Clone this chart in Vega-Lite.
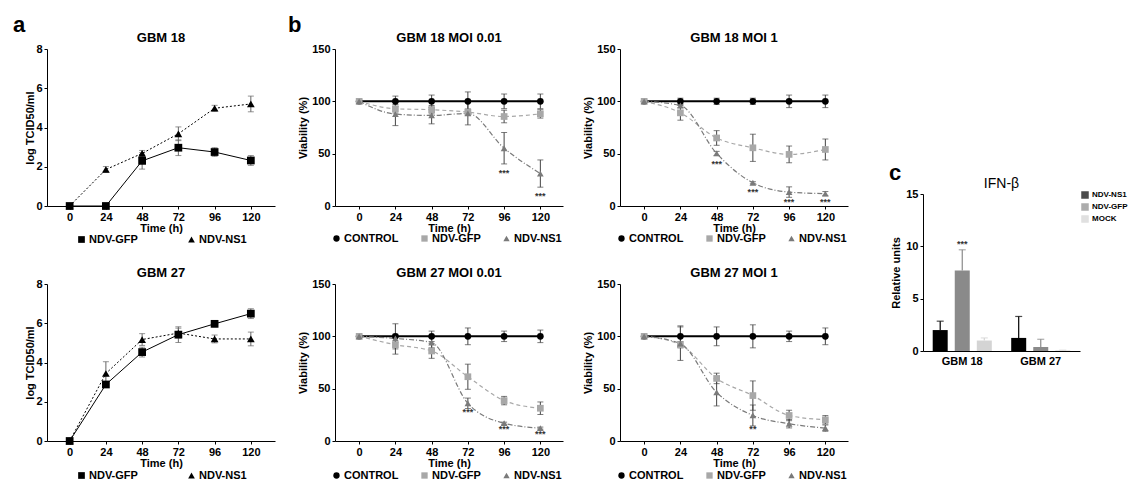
{
"$schema": "https://vega.github.io/schema/vega-lite/v6.json",
"padding": {"left": 13, "top": 14, "right": 0, "bottom": 0},
"background": "white",
"config": {
 "font": "Liberation Sans",
 "view": {"stroke": null},
 "axis": {"grid": false, "domainColor": "#000", "tickColor": "#000", "labelColor": "#000", "titleColor": "#000", "labelFontWeight": "bold", "labelFontSize": 11, "titleFontWeight": "bold", "titleFontSize": 11, "tickSize": 3, "labelPadding": 2, "domainWidth": 1, "labelOverlap": false},
 "title": {"fontSize": 13, "fontWeight": "bold", "color": "#000", "offset": -2},
 "legend": {"labelColor": "#000", "padding": 0, "gridAlign": "none"}
},
"datasets": {
 "growth": [
  {"panel":"a18","series":"NDV-GFP","t":0,"v":0,"e":0},
  {"panel":"a18","series":"NDV-GFP","t":24,"v":0,"e":0},
  {"panel":"a18","series":"NDV-GFP","t":48,"v":2.3,"e":0.42},
  {"panel":"a18","series":"NDV-GFP","t":72,"v":2.97,"e":0.4},
  {"panel":"a18","series":"NDV-GFP","t":96,"v":2.75,"e":0.22},
  {"panel":"a18","series":"NDV-GFP","t":120,"v":2.32,"e":0.25},
  {"panel":"a18","series":"NDV-NS1","t":0,"v":0,"e":0},
  {"panel":"a18","series":"NDV-NS1","t":24,"v":1.86,"e":0.15},
  {"panel":"a18","series":"NDV-NS1","t":48,"v":2.68,"e":0.15},
  {"panel":"a18","series":"NDV-NS1","t":72,"v":3.68,"e":0.35},
  {"panel":"a18","series":"NDV-NS1","t":96,"v":4.98,"e":0.15},
  {"panel":"a18","series":"NDV-NS1","t":120,"v":5.2,"e":0.4},
  {"panel":"a27","series":"NDV-GFP","t":0,"v":0,"e":0},
  {"panel":"a27","series":"NDV-GFP","t":24,"v":2.88,"e":0.1},
  {"panel":"a27","series":"NDV-GFP","t":48,"v":4.53,"e":0.25},
  {"panel":"a27","series":"NDV-GFP","t":72,"v":5.42,"e":0.4},
  {"panel":"a27","series":"NDV-GFP","t":96,"v":5.97,"e":0.15},
  {"panel":"a27","series":"NDV-GFP","t":120,"v":6.49,"e":0.25},
  {"panel":"a27","series":"NDV-NS1","t":0,"v":0,"e":0},
  {"panel":"a27","series":"NDV-NS1","t":24,"v":3.44,"e":0.6},
  {"panel":"a27","series":"NDV-NS1","t":48,"v":5.17,"e":0.3},
  {"panel":"a27","series":"NDV-NS1","t":72,"v":5.5,"e":0.25},
  {"panel":"a27","series":"NDV-NS1","t":96,"v":5.2,"e":0.2},
  {"panel":"a27","series":"NDV-NS1","t":120,"v":5.2,"e":0.35}
 ],
 "viab": [
  {"panel":"b18a","series":"CONTROL","t":0,"v":100,"e":0},
  {"panel":"b18a","series":"CONTROL","t":24,"v":100,"e":5},
  {"panel":"b18a","series":"CONTROL","t":48,"v":100,"e":6},
  {"panel":"b18a","series":"CONTROL","t":72,"v":100,"e":9},
  {"panel":"b18a","series":"CONTROL","t":96,"v":100,"e":7},
  {"panel":"b18a","series":"CONTROL","t":120,"v":100,"e":7},
  {"panel":"b18a","series":"NDV-GFP","t":0,"v":100,"e":0},
  {"panel":"b18a","series":"NDV-GFP","t":24,"v":92.9,"e":4},
  {"panel":"b18a","series":"NDV-GFP","t":48,"v":92,"e":4},
  {"panel":"b18a","series":"NDV-GFP","t":72,"v":89.7,"e":3},
  {"panel":"b18a","series":"NDV-GFP","t":96,"v":85.5,"e":6},
  {"panel":"b18a","series":"NDV-GFP","t":120,"v":88,"e":4},
  {"panel":"b18a","series":"NDV-NS1","t":0,"v":100,"e":0},
  {"panel":"b18a","series":"NDV-NS1","t":24,"v":87.8,"e":11},
  {"panel":"b18a","series":"NDV-NS1","t":48,"v":86.5,"e":8},
  {"panel":"b18a","series":"NDV-NS1","t":72,"v":88.5,"e":11},
  {"panel":"b18a","series":"NDV-NS1","t":96,"v":55.2,"e":15},
  {"panel":"b18a","series":"NDV-NS1","t":120,"v":31,"e":13},
  {"panel":"b18b","series":"CONTROL","t":0,"v":100,"e":0},
  {"panel":"b18b","series":"CONTROL","t":24,"v":100,"e":3},
  {"panel":"b18b","series":"CONTROL","t":48,"v":100,"e":3},
  {"panel":"b18b","series":"CONTROL","t":72,"v":100,"e":3},
  {"panel":"b18b","series":"CONTROL","t":96,"v":100,"e":6},
  {"panel":"b18b","series":"CONTROL","t":120,"v":100,"e":6},
  {"panel":"b18b","series":"NDV-GFP","t":0,"v":100,"e":0},
  {"panel":"b18b","series":"NDV-GFP","t":24,"v":89,"e":7},
  {"panel":"b18b","series":"NDV-GFP","t":48,"v":65,"e":7},
  {"panel":"b18b","series":"NDV-GFP","t":72,"v":55.6,"e":13},
  {"panel":"b18b","series":"NDV-GFP","t":96,"v":49.3,"e":8},
  {"panel":"b18b","series":"NDV-GFP","t":120,"v":54,"e":10},
  {"panel":"b18b","series":"NDV-NS1","t":0,"v":100,"e":0},
  {"panel":"b18b","series":"NDV-NS1","t":24,"v":96,"e":2},
  {"panel":"b18b","series":"NDV-NS1","t":48,"v":50.2,"e":2},
  {"panel":"b18b","series":"NDV-NS1","t":72,"v":22.2,"e":1},
  {"panel":"b18b","series":"NDV-NS1","t":96,"v":13.3,"e":5},
  {"panel":"b18b","series":"NDV-NS1","t":120,"v":11.8,"e":2},
  {"panel":"b27a","series":"CONTROL","t":0,"v":100,"e":0},
  {"panel":"b27a","series":"CONTROL","t":24,"v":100,"e":12},
  {"panel":"b27a","series":"CONTROL","t":48,"v":100,"e":5},
  {"panel":"b27a","series":"CONTROL","t":72,"v":100,"e":8},
  {"panel":"b27a","series":"CONTROL","t":96,"v":100,"e":5},
  {"panel":"b27a","series":"CONTROL","t":120,"v":100,"e":6},
  {"panel":"b27a","series":"NDV-GFP","t":0,"v":100,"e":0},
  {"panel":"b27a","series":"NDV-GFP","t":24,"v":92,"e":9},
  {"panel":"b27a","series":"NDV-GFP","t":48,"v":86,"e":7},
  {"panel":"b27a","series":"NDV-GFP","t":72,"v":61.4,"e":12},
  {"panel":"b27a","series":"NDV-GFP","t":96,"v":38.6,"e":4},
  {"panel":"b27a","series":"NDV-GFP","t":120,"v":31.3,"e":6},
  {"panel":"b27a","series":"NDV-NS1","t":0,"v":100,"e":0},
  {"panel":"b27a","series":"NDV-NS1","t":24,"v":98,"e":4},
  {"panel":"b27a","series":"NDV-NS1","t":48,"v":94,"e":5},
  {"panel":"b27a","series":"NDV-NS1","t":72,"v":36,"e":5},
  {"panel":"b27a","series":"NDV-NS1","t":96,"v":17,"e":1},
  {"panel":"b27a","series":"NDV-NS1","t":120,"v":12.3,"e":1},
  {"panel":"b27b","series":"CONTROL","t":0,"v":100,"e":0},
  {"panel":"b27b","series":"CONTROL","t":24,"v":100,"e":10},
  {"panel":"b27b","series":"CONTROL","t":48,"v":100,"e":9},
  {"panel":"b27b","series":"CONTROL","t":72,"v":100,"e":11},
  {"panel":"b27b","series":"CONTROL","t":96,"v":100,"e":5},
  {"panel":"b27b","series":"CONTROL","t":120,"v":100,"e":8},
  {"panel":"b27b","series":"NDV-GFP","t":0,"v":100,"e":0},
  {"panel":"b27b","series":"NDV-GFP","t":24,"v":92,"e":3},
  {"panel":"b27b","series":"NDV-GFP","t":48,"v":59.8,"e":5},
  {"panel":"b27b","series":"NDV-GFP","t":72,"v":43.4,"e":14},
  {"panel":"b27b","series":"NDV-GFP","t":96,"v":24.4,"e":5},
  {"panel":"b27b","series":"NDV-GFP","t":120,"v":20.3,"e":4},
  {"panel":"b27b","series":"NDV-NS1","t":0,"v":100,"e":0},
  {"panel":"b27b","series":"NDV-NS1","t":24,"v":93,"e":16},
  {"panel":"b27b","series":"NDV-NS1","t":48,"v":46.5,"e":13},
  {"panel":"b27b","series":"NDV-NS1","t":72,"v":24.4,"e":10},
  {"panel":"b27b","series":"NDV-NS1","t":96,"v":16.5,"e":4},
  {"panel":"b27b","series":"NDV-NS1","t":120,"v":12.3,"e":3}
 ],
 "stars": [
  {"panel":"b18a","t":96,"v":32,"label":"***"},
  {"panel":"b18a","t":120,"v":10,"label":"***"},
  {"panel":"b18b","t":48,"v":40.5,"label":"***"},
  {"panel":"b18b","t":72,"v":13.5,"label":"***"},
  {"panel":"b18b","t":96,"v":3.5,"label":"***"},
  {"panel":"b18b","t":120,"v":3.5,"label":"***"},
  {"panel":"b27a","t":72,"v":28,"label":"***"},
  {"panel":"b27a","t":96,"v":11.7,"label":"***"},
  {"panel":"b27a","t":120,"v":6.6,"label":"***"},
  {"panel":"b27b","t":72,"v":11,"label":"**"}
 ],
 "ifn": [
  {"cell":"GBM 18","series":"NDV-NS1","v":2.0,"hi":2.85},
  {"cell":"GBM 18","series":"NDV-GFP","v":7.7,"hi":9.67},
  {"cell":"GBM 18","series":"MOCK","v":1.0,"hi":1.25},
  {"cell":"GBM 27","series":"NDV-NS1","v":1.25,"hi":3.3},
  {"cell":"GBM 27","series":"NDV-GFP","v":0.38,"hi":1.12},
  {"cell":"GBM 27","series":"MOCK","v":0.05,"hi":0.08}
 ],
 "ifnstars": [
  {"cell":"GBM 18","series":"NDV-GFP","v":10.2,"label":"***"}
 ]
},
"spacing": 13,
"resolve": {"scale": {"x":"independent","y":"independent","color":"independent","shape":"independent"}, "legend": {"color":"independent","shape":"independent"}},
"hconcat": [
 {
  "title": {"text": "a", "anchor": "start", "frame": "group", "dx": -34, "fontSize": 22, "fontWeight": "bold", "offset": -5},
  "bounds": "flush",
  "spacing": 78,
  "resolve": {"scale": {"x":"independent","y":"independent","color":"independent","shape":"independent"}, "legend": {"color":"independent","shape":"independent"}},
  "vconcat": [
   {
    "width": 228, "height": 157,
    "title": "GBM 18",
    "data": {"name": "growth"},
    "transform": [{"filter": "datum.panel === 'a18'"}],
    "encoding": {
     "x": {"field": "t", "type": "quantitative", "title": "Time (h)", "scale": {"domain": [-15, 136], "nice": false, "zero": false}, "axis": {"values": [0,24,48,72,96,120], "titlePadding": 0}},
     "y": {"field": "v", "type": "quantitative", "title": "log TCID50/ml", "scale": {"domain": [0, 8], "nice": false}, "axis": {"values": [0,2,4,6,8], "tickCount": 5, "labelOverlap": false, "titlePadding": 0}}
    },
    "layer": [
     {"mark": {"type": "errorbar", "ticks": {"size": 6}, "color": "#666"}, "encoding": {"yError": {"field": "e"}}},
     {"transform": [{"filter": "datum.series === 'NDV-GFP'"}], "mark": {"type": "line", "strokeWidth": 1, "color": "#000"}},
     {"transform": [{"filter": "datum.series === 'NDV-NS1'"}], "mark": {"type": "line", "strokeWidth": 1, "color": "#000", "strokeDash": [2,2]}},
     {"mark": {"type": "point", "filled": true, "opacity": 1, "size": 60},
      "encoding": {
       "color": {"field": "series", "type": "nominal", "scale": {"domain": ["NDV-GFP","NDV-NS1"], "range": ["#000","#000"]}, "legend": {"orient": "none", "legendX": 29, "legendY": 185, "direction": "horizontal", "title": null, "symbolSize": 45, "labelFontSize": 11, "labelFontWeight": "bold", "columnPadding": 48, "labelOffset": 2}},
       "shape": {"field": "series", "type": "nominal", "scale": {"domain": ["NDV-GFP","NDV-NS1"], "range": ["square","triangle-up"]}, "legend": {"orient": "none", "legendX": 29, "legendY": 185, "direction": "horizontal", "title": null, "symbolSize": 45, "labelFontSize": 11, "labelFontWeight": "bold", "columnPadding": 48, "labelOffset": 2}}}}
    ]
   },
   {
    "width": 228, "height": 157,
    "title": "GBM 27",
    "data": {"name": "growth"},
    "transform": [{"filter": "datum.panel === 'a27'"}],
    "encoding": {
     "x": {"field": "t", "type": "quantitative", "title": "Time (h)", "scale": {"domain": [-15, 136], "nice": false, "zero": false}, "axis": {"values": [0,24,48,72,96,120], "titlePadding": 0}},
     "y": {"field": "v", "type": "quantitative", "title": "log TCID50/ml", "scale": {"domain": [0, 8], "nice": false}, "axis": {"values": [0,2,4,6,8], "tickCount": 5, "labelOverlap": false, "titlePadding": 0}}
    },
    "layer": [
     {"mark": {"type": "errorbar", "ticks": {"size": 6}, "color": "#666"}, "encoding": {"yError": {"field": "e"}}},
     {"transform": [{"filter": "datum.series === 'NDV-GFP'"}], "mark": {"type": "line", "strokeWidth": 1, "color": "#000"}},
     {"transform": [{"filter": "datum.series === 'NDV-NS1'"}], "mark": {"type": "line", "strokeWidth": 1, "color": "#000", "strokeDash": [2,2]}},
     {"mark": {"type": "point", "filled": true, "opacity": 1, "size": 60},
      "encoding": {
       "color": {"field": "series", "type": "nominal", "scale": {"domain": ["NDV-GFP","NDV-NS1"], "range": ["#000","#000"]}, "legend": {"orient": "none", "legendX": 29, "legendY": 186, "direction": "horizontal", "title": null, "symbolSize": 45, "labelFontSize": 11, "labelFontWeight": "bold", "columnPadding": 48, "labelOffset": 2}},
       "shape": {"field": "series", "type": "nominal", "scale": {"domain": ["NDV-GFP","NDV-NS1"], "range": ["square","triangle-up"]}, "legend": {"orient": "none", "legendX": 29, "legendY": 186, "direction": "horizontal", "title": null, "symbolSize": 45, "labelFontSize": 11, "labelFontWeight": "bold", "columnPadding": 48, "labelOffset": 2}}}}
    ]
   }
  ]
 },
 {
  "spacing": 19,
  "resolve": {"scale": {"x":"independent","y":"independent","color":"independent","shape":"independent"}, "legend": {"color":"independent","shape":"independent"}},
  "hconcat": [
   {
    "title": {"text": "b", "anchor": "start", "frame": "group", "dx": -47, "fontSize": 22, "fontWeight": "bold", "offset": -5},
    "bounds": "flush",
    "spacing": 78,
    "resolve": {"scale": {"x":"independent","y":"independent","color":"independent","shape":"independent"}, "legend": {"color":"independent","shape":"independent"}},
    "vconcat": [
     {
      "width": 228, "height": 157,
      "title": "GBM 18 MOI 0.01",
      "data": {"name": "viab"},
      "transform": [{"filter": "datum.panel === 'b18a'"}],
      "encoding": {
       "x": {"field": "t", "type": "quantitative", "title": "Time (h)", "scale": {"domain": [-16, 135], "nice": false, "zero": false}, "axis": {"values": [0,24,48,72,96,120], "titlePadding": 0}},
       "y": {"field": "v", "type": "quantitative", "title": "Viability (%)", "scale": {"domain": [0, 150], "nice": false}, "axis": {"values": [0,50,100,150], "labelOverlap": false, "titlePadding": 3}}
      },
      "layer": [
       {"data": {"values": [{}]}, "transform": [], "mark": {"type": "rule", "strokeDash": [2,2], "color": "#9a9a9a"}, "encoding": {"x": {"value": 0}, "x2": {"value": 228}, "y": {"datum": 50, "type": "quantitative"}}},
       {"mark": {"type": "errorbar", "ticks": {"size": 6}, "color": "#444"}, "encoding": {"yError": {"field": "e"}}},
       {"transform": [{"filter": "datum.series === 'CONTROL'"}], "mark": {"type": "line", "strokeWidth": 2, "color": "#000"}},
       {"transform": [{"filter": "datum.series === 'NDV-GFP'"}], "mark": {"type": "line", "interpolate": "monotone", "strokeWidth": 1.2, "color": "#a8a8a8", "strokeDash": [4,3]}},
       {"transform": [{"filter": "datum.series === 'NDV-NS1'"}], "mark": {"type": "line", "interpolate": "monotone", "strokeWidth": 1.2, "color": "#7a7a7a", "strokeDash": [5,2,1,2]}},
       {"mark": {"type": "point", "filled": true, "opacity": 1, "size": 45},
        "encoding": {
         "color": {"field": "series", "type": "nominal", "scale": {"domain": ["CONTROL","NDV-GFP","NDV-NS1"], "range": ["#000","#a8a8a8","#7a7a7a"]}, "legend": {"orient": "none", "legendX": -4, "legendY": 184, "direction": "horizontal", "title": null, "symbolSize": 40, "labelFontSize": 11, "labelFontWeight": "bold", "columnPadding": 20, "labelOffset": 2}},
         "shape": {"field": "series", "type": "nominal", "scale": {"domain": ["CONTROL","NDV-GFP","NDV-NS1"], "range": ["circle","square","triangle-up"]}, "legend": {"orient": "none", "legendX": -4, "legendY": 184, "direction": "horizontal", "title": null, "symbolSize": 40, "labelFontSize": 11, "labelFontWeight": "bold", "columnPadding": 20, "labelOffset": 2}}}},
       {"data": {"name": "stars"}, "transform": [{"filter": "datum.panel === 'b18a'"}],
        "mark": {"type": "text", "fontSize": 9, "fontWeight": "bold", "color": "#333", "baseline": "middle"},
        "encoding": {"text": {"field": "label"}}}
      ]
     },
     {
      "width": 228, "height": 157,
      "title": "GBM 27 MOI 0.01",
      "data": {"name": "viab"},
      "transform": [{"filter": "datum.panel === 'b27a'"}],
      "encoding": {
       "x": {"field": "t", "type": "quantitative", "title": "Time (h)", "scale": {"domain": [-16, 135], "nice": false, "zero": false}, "axis": {"values": [0,24,48,72,96,120], "titlePadding": 0}},
       "y": {"field": "v", "type": "quantitative", "title": "Viability (%)", "scale": {"domain": [0, 150], "nice": false}, "axis": {"values": [0,50,100,150], "labelOverlap": false, "titlePadding": 3}}
      },
      "layer": [
       {"data": {"values": [{}]}, "transform": [], "mark": {"type": "rule", "strokeDash": [2,2], "color": "#9a9a9a"}, "encoding": {"x": {"value": 0}, "x2": {"value": 228}, "y": {"datum": 50, "type": "quantitative"}}},
       {"mark": {"type": "errorbar", "ticks": {"size": 6}, "color": "#444"}, "encoding": {"yError": {"field": "e"}}},
       {"transform": [{"filter": "datum.series === 'CONTROL'"}], "mark": {"type": "line", "strokeWidth": 2, "color": "#000"}},
       {"transform": [{"filter": "datum.series === 'NDV-GFP'"}], "mark": {"type": "line", "interpolate": "monotone", "strokeWidth": 1.2, "color": "#a8a8a8", "strokeDash": [4,3]}},
       {"transform": [{"filter": "datum.series === 'NDV-NS1'"}], "mark": {"type": "line", "interpolate": "monotone", "strokeWidth": 1.2, "color": "#7a7a7a", "strokeDash": [5,2,1,2]}},
       {"mark": {"type": "point", "filled": true, "opacity": 1, "size": 45},
        "encoding": {
         "color": {"field": "series", "type": "nominal", "scale": {"domain": ["CONTROL","NDV-GFP","NDV-NS1"], "range": ["#000","#a8a8a8","#7a7a7a"]}, "legend": {"orient": "none", "legendX": -4, "legendY": 186, "direction": "horizontal", "title": null, "symbolSize": 40, "labelFontSize": 11, "labelFontWeight": "bold", "columnPadding": 20, "labelOffset": 2}},
         "shape": {"field": "series", "type": "nominal", "scale": {"domain": ["CONTROL","NDV-GFP","NDV-NS1"], "range": ["circle","square","triangle-up"]}, "legend": {"orient": "none", "legendX": -4, "legendY": 186, "direction": "horizontal", "title": null, "symbolSize": 40, "labelFontSize": 11, "labelFontWeight": "bold", "columnPadding": 20, "labelOffset": 2}}}},
       {"data": {"name": "stars"}, "transform": [{"filter": "datum.panel === 'b27a'"}],
        "mark": {"type": "text", "fontSize": 9, "fontWeight": "bold", "color": "#333", "baseline": "middle"},
        "encoding": {"text": {"field": "label"}}}
      ]
     }
    ]
   },
   {
    "spacing": 41,
    "resolve": {"scale": {"x":"independent","y":"independent","color":"independent","shape":"independent"}, "legend": {"color":"independent","shape":"independent"}},
    "hconcat": [
     {
      "bounds": "flush",
      "spacing": 78,
      "resolve": {"scale": {"x":"independent","y":"independent","color":"independent","shape":"independent"}, "legend": {"color":"independent","shape":"independent"}},
      "vconcat": [
       {
        "width": 228, "height": 157,
        "title": "GBM 18 MOI 1",
        "data": {"name": "viab"},
        "transform": [{"filter": "datum.panel === 'b18b'"}],
        "encoding": {
         "x": {"field": "t", "type": "quantitative", "title": "Time (h)", "scale": {"domain": [-16, 135], "nice": false, "zero": false}, "axis": {"values": [0,24,48,72,96,120], "titlePadding": 0}},
         "y": {"field": "v", "type": "quantitative", "title": "Viability (%)", "scale": {"domain": [0, 150], "nice": false}, "axis": {"values": [0,50,100,150], "labelOverlap": false, "titlePadding": 3}}
        },
        "layer": [
         {"data": {"values": [{}]}, "transform": [], "mark": {"type": "rule", "strokeDash": [2,2], "color": "#9a9a9a"}, "encoding": {"x": {"value": 0}, "x2": {"value": 228}, "y": {"datum": 50, "type": "quantitative"}}},
         {"mark": {"type": "errorbar", "ticks": {"size": 6}, "color": "#444"}, "encoding": {"yError": {"field": "e"}}},
         {"transform": [{"filter": "datum.series === 'CONTROL'"}], "mark": {"type": "line", "strokeWidth": 2, "color": "#000"}},
         {"transform": [{"filter": "datum.series === 'NDV-GFP'"}], "mark": {"type": "line", "interpolate": "monotone", "strokeWidth": 1.2, "color": "#a8a8a8", "strokeDash": [4,3]}},
         {"transform": [{"filter": "datum.series === 'NDV-NS1'"}], "mark": {"type": "line", "interpolate": "monotone", "strokeWidth": 1.2, "color": "#7a7a7a", "strokeDash": [5,2,1,2]}},
         {"mark": {"type": "point", "filled": true, "opacity": 1, "size": 45},
          "encoding": {
           "color": {"field": "series", "type": "nominal", "scale": {"domain": ["CONTROL","NDV-GFP","NDV-NS1"], "range": ["#000","#a8a8a8","#7a7a7a"]}, "legend": {"orient": "none", "legendX": -4, "legendY": 184, "direction": "horizontal", "title": null, "symbolSize": 40, "labelFontSize": 11, "labelFontWeight": "bold", "columnPadding": 20, "labelOffset": 2}},
           "shape": {"field": "series", "type": "nominal", "scale": {"domain": ["CONTROL","NDV-GFP","NDV-NS1"], "range": ["circle","square","triangle-up"]}, "legend": {"orient": "none", "legendX": -4, "legendY": 184, "direction": "horizontal", "title": null, "symbolSize": 40, "labelFontSize": 11, "labelFontWeight": "bold", "columnPadding": 20, "labelOffset": 2}}}},
         {"data": {"name": "stars"}, "transform": [{"filter": "datum.panel === 'b18b'"}],
          "mark": {"type": "text", "fontSize": 9, "fontWeight": "bold", "color": "#333", "baseline": "middle"},
          "encoding": {"text": {"field": "label"}}}
        ]
       },
       {
        "width": 228, "height": 157,
        "title": "GBM 27 MOI 1",
        "data": {"name": "viab"},
        "transform": [{"filter": "datum.panel === 'b27b'"}],
        "encoding": {
         "x": {"field": "t", "type": "quantitative", "title": "Time (h)", "scale": {"domain": [-16, 135], "nice": false, "zero": false}, "axis": {"values": [0,24,48,72,96,120], "titlePadding": 0}},
         "y": {"field": "v", "type": "quantitative", "title": "Viability (%)", "scale": {"domain": [0, 150], "nice": false}, "axis": {"values": [0,50,100,150], "labelOverlap": false, "titlePadding": 3}}
        },
        "layer": [
         {"data": {"values": [{}]}, "transform": [], "mark": {"type": "rule", "strokeDash": [2,2], "color": "#9a9a9a"}, "encoding": {"x": {"value": 0}, "x2": {"value": 228}, "y": {"datum": 50, "type": "quantitative"}}},
         {"mark": {"type": "errorbar", "ticks": {"size": 6}, "color": "#444"}, "encoding": {"yError": {"field": "e"}}},
         {"transform": [{"filter": "datum.series === 'CONTROL'"}], "mark": {"type": "line", "strokeWidth": 2, "color": "#000"}},
         {"transform": [{"filter": "datum.series === 'NDV-GFP'"}], "mark": {"type": "line", "interpolate": "monotone", "strokeWidth": 1.2, "color": "#a8a8a8", "strokeDash": [4,3]}},
         {"transform": [{"filter": "datum.series === 'NDV-NS1'"}], "mark": {"type": "line", "interpolate": "monotone", "strokeWidth": 1.2, "color": "#7a7a7a", "strokeDash": [5,2,1,2]}},
         {"mark": {"type": "point", "filled": true, "opacity": 1, "size": 45},
          "encoding": {
           "color": {"field": "series", "type": "nominal", "scale": {"domain": ["CONTROL","NDV-GFP","NDV-NS1"], "range": ["#000","#a8a8a8","#7a7a7a"]}, "legend": {"orient": "none", "legendX": -4, "legendY": 186, "direction": "horizontal", "title": null, "symbolSize": 40, "labelFontSize": 11, "labelFontWeight": "bold", "columnPadding": 20, "labelOffset": 2}},
           "shape": {"field": "series", "type": "nominal", "scale": {"domain": ["CONTROL","NDV-GFP","NDV-NS1"], "range": ["circle","square","triangle-up"]}, "legend": {"orient": "none", "legendX": -4, "legendY": 186, "direction": "horizontal", "title": null, "symbolSize": 40, "labelFontSize": 11, "labelFontWeight": "bold", "columnPadding": 20, "labelOffset": 2}}}},
         {"data": {"name": "stars"}, "transform": [{"filter": "datum.panel === 'b27b'"}],
          "mark": {"type": "text", "fontSize": 9, "fontWeight": "bold", "color": "#333", "baseline": "middle"},
          "encoding": {"text": {"field": "label"}}}
        ]
       }
      ]
     },
     {
      "bounds": "flush",
      "spacing": 35,
      "resolve": {"scale": {"x":"independent","y":"independent","color":"independent"}, "legend": {"color":"independent"}},
      "vconcat": [
       {
        "width": 157, "height": 110,
        "title": {"text": "c", "orient": "bottom", "anchor": "start", "frame": "group", "dx": -34, "offset": 4, "fontSize": 22, "fontWeight": "bold"},
        "data": {"values": [{}]},
        "mark": {"type": "text"},
        "encoding": {"text": {"value": ""}}
       },
       {
        "width": 157, "height": 157,
        "title": {"text": "IFN-β", "fontWeight": "normal", "fontSize": 14, "offset": -3},
        "data": {"name": "ifn"},
        "encoding": {
         "x": {"field": "cell", "type": "nominal", "title": null, "scale": {"paddingInner": 0, "paddingOuter": 0}, "axis": {"labelAngle": 0, "labelAlign": "center", "ticks": false, "labelPadding": 4}},
         "xOffset": {"field": "series", "type": "nominal", "sort": ["NDV-NS1","NDV-GFP","MOCK"], "scale": {"paddingInner": 0.32, "paddingOuter": 0.44}}
        },
        "layer": [
         {"mark": {"type": "rule", "strokeWidth": 1.2},
          "encoding": {
           "y": {"field": "v", "type": "quantitative", "title": "Relative units"}, "y2": {"field": "hi"},
           "color": {"field": "series", "type": "nominal", "scale": {"domain": ["NDV-NS1","NDV-GFP","MOCK"], "range": ["#000","#8a8a8a","#d4d4d4"]}}}},
         {"mark": {"type": "tick", "thickness": 1.2, "size": 7},
          "encoding": {
           "y": {"field": "hi", "type": "quantitative", "title": "Relative units"},
           "color": {"field": "series", "type": "nominal", "scale": {"domain": ["NDV-NS1","NDV-GFP","MOCK"], "range": ["#000","#8a8a8a","#d4d4d4"]}}}},
         {"mark": {"type": "bar"},
          "encoding": {
           "y": {"field": "v", "type": "quantitative", "title": "Relative units", "scale": {"domain": [0, 15], "nice": false}, "axis": {"values": [0,5,10,15], "labelOverlap": false, "titlePadding": 4}},
           "color": {"field": "series", "type": "nominal", "scale": {"domain": ["NDV-NS1","NDV-GFP","MOCK"], "range": ["#000","#8a8a8a","#d4d4d4"]}, "legend": {"orient": "none", "legendX": 158, "legendY": -3, "title": null, "symbolType": "square", "symbolSize": 36, "labelFontSize": 8, "labelFontWeight": "bold", "rowPadding": 0, "labelOffset": 3}}}},
         {"data": {"name": "ifnstars"},
          "mark": {"type": "text", "fontSize": 9, "fontWeight": "bold", "color": "#333", "baseline": "middle"},
          "encoding": {
           "y": {"field": "v", "type": "quantitative", "title": "Relative units"},
           "text": {"field": "label"}}}
        ]
       }
      ]
     }
    ]
   }
  ]
 }
]
}
